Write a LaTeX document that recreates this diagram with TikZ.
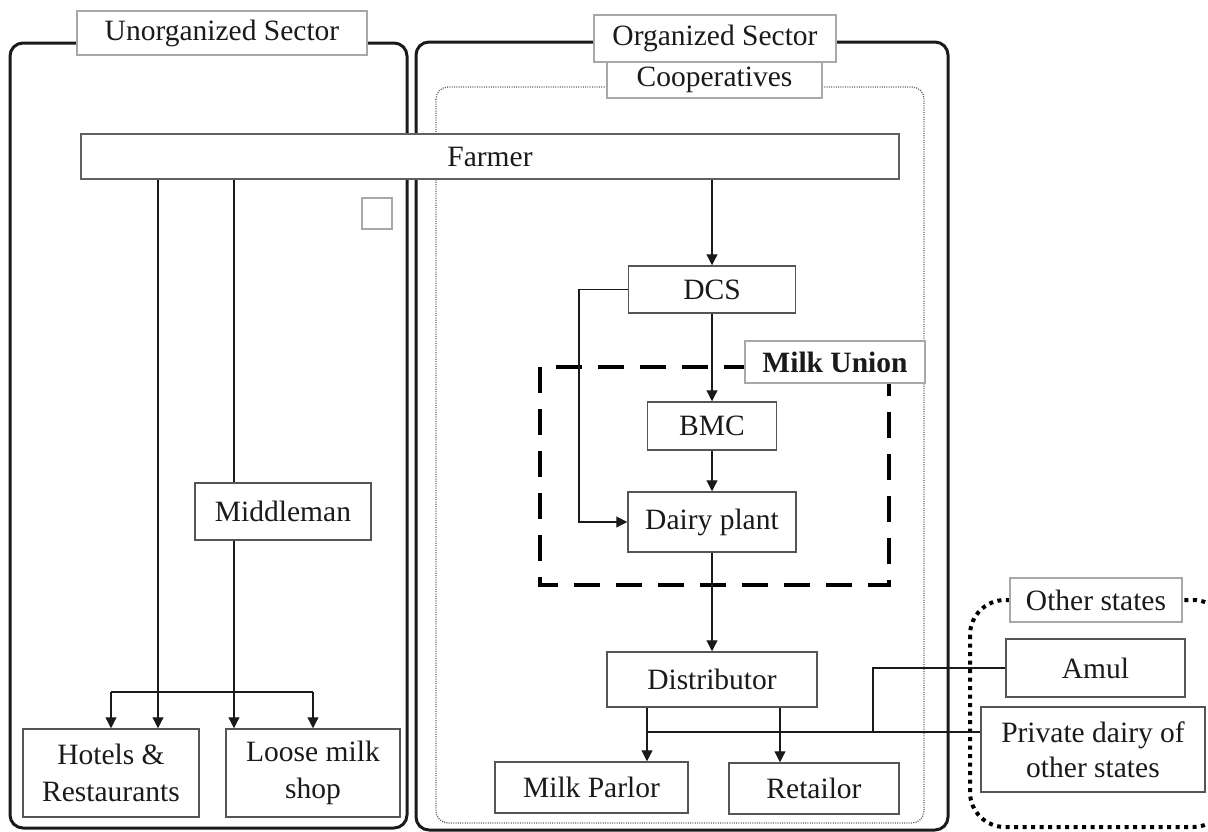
\documentclass[tikz,border=0pt]{standalone}
\usepackage{fontspec}
\setmainfont{Liberation Serif}
\usetikzlibrary{arrows.meta}
\definecolor{ink}{HTML}{1A1A1A}
\definecolor{edge}{HTML}{555555}
\definecolor{pale}{HTML}{A8A8A8}
\begin{document}
\begin{tikzpicture}[x=1pt,y=-1pt,
  txt/.style={font=\fontsize{29.5}{37}\selectfont, text=ink, align=center, inner sep=0pt},
  sector/.style={draw=ink, line width=3pt, rounded corners=13pt},
  coopframe/.style={draw=gray!75!black, line width=1.3pt, dash pattern=on 1pt off 1.3pt, rounded corners=12pt},
  unionframe/.style={draw=black, line width=3.5pt, dash pattern=on 26pt off 16pt},
  statesframe/.style={draw=black, line width=4pt, dash pattern=on 4pt off 4.5pt, rounded corners=35pt},
  stage/.style={txt, draw=edge, line width=1.5pt, fill=white},
  tag/.style={txt, draw=pale, line width=1.3pt, fill=white},
  flow/.style={draw=ink, line width=1.2pt},
  arr/.style={flow, -{Triangle[length=11pt,width=11pt]}}]
\useasboundingbox (0,0) rectangle (1208,831);
\clip (0,0) rectangle (1208,831);

% sector frames
\draw[sector] (10,43) rectangle (407,828);
\draw[sector] (416,42) rectangle (948,830);
\draw[coopframe] (436,87) rectangle (924,823);
\draw[unionframe] (540,367) rectangle (889,585);
\draw[statesframe] (970,600) rectangle (1228,827);

% frame captions
\node[tag, minimum width=290pt, minimum height=44pt] (unorg) at (222,33) {Unorganized Sector};
\node[tag, minimum width=215pt, minimum height=36pt] (coop) at (714.5,80) {Cooperatives};
\node[tag, minimum width=242pt, minimum height=47pt] (org) at (715,38.5) {Organized Sector};
\node[tag, minimum width=180pt, minimum height=42pt, font=\fontsize{29.5}{37}\selectfont\bfseries] (union) at (835,362) {Milk Union};
\node[tag, minimum width=172pt, minimum height=44pt] (states) at (1096,600) {Other states};

% stages of the supply chain
\node[stage, draw=gray!75!black, line width=1.8pt, minimum width=818pt, minimum height=45pt] (farmer) at (490,156.5) {Farmer};
\node[draw=pale, line width=1.2pt, fill=white, minimum width=30pt, minimum height=31pt, inner sep=0pt] (blank) at (377,213.5) {};
\node[stage, minimum width=176pt, minimum height=57pt] (middleman) at (283,511.5) {Middleman};
\node[stage, minimum width=176pt, minimum height=88pt] (hotels) at (111,773) {Hotels \&\\Restaurants};
\node[stage, minimum width=174pt, minimum height=88pt] (loose) at (313,773) {Loose milk\\shop};
\node[stage, minimum width=167pt, minimum height=47pt] (dcs) at (712,289.5) {DCS};
\node[stage, minimum width=129pt, minimum height=48pt] (bmc) at (712,426) {BMC};
\node[stage, minimum width=168pt, minimum height=60pt] (dairy) at (712,522) {Dairy plant};
\node[stage, minimum width=210pt, minimum height=55pt] (distributor) at (712,679.5) {Distributor};
\node[stage, minimum width=193pt, minimum height=51pt] (parlor) at (591.5,787.5) {Milk Parlor};
\node[stage, minimum width=170pt, minimum height=51pt] (retailor) at (814,788.5) {Retailor};
\node[stage, minimum width=179pt, minimum height=58pt] (amul) at (1095.5,668) {Amul};
\node[stage, minimum width=224pt, minimum height=85pt, font=\fontsize{29.5}{35}\selectfont] (private) at (1093,749.5) {Private dairy of\\other states};

% routing points
\coordinate (xh) at (158,0);
\coordinate (xl) at (234,0);
\coordinate (split) at (234,692);
\coordinate (bypass) at (579,0);
\coordinate (join) at (647,732);
\coordinate (xr) at (780,0);
\coordinate (xa) at (873,0);

% unorganized channel
\draw[arr] (farmer.south -| xh) -- (hotels.north -| xh);
\draw[flow] (farmer.south -| xl) -- (middleman.north -| xl);
\draw[arr] (middleman.south -| xl) -- (loose.north -| xl);
\draw[flow] (split -| hotels.north) -- (split -| loose.north);
\draw[arr] (split -| hotels.north) -- (hotels.north);
\draw[arr] (split -| loose.north) -- (loose.north);

% cooperative channel
\draw[arr] (farmer.south -| dcs.north) -- (dcs.north);
\draw[arr] (dcs.south) -- (bmc.north);
\draw[arr] (bmc.south) -- (dairy.north);
\draw[arr] (dcs.west) -- (dcs.west -| bypass) -- (dairy.west -| bypass) -- (dairy.west);
\draw[arr] (dairy.south) -- (distributor.north);
\draw[arr] (distributor.south -| join) -- (parlor.north -| join);
\draw[arr] (distributor.south -| xr) -- (retailor.north -| xr);

% supply from other states
\draw[flow] (private.west |- join) -- (join);
\draw[flow] (amul.west) -- (amul.west -| xa) -- (xa |- join);
\end{tikzpicture}
\end{document}
